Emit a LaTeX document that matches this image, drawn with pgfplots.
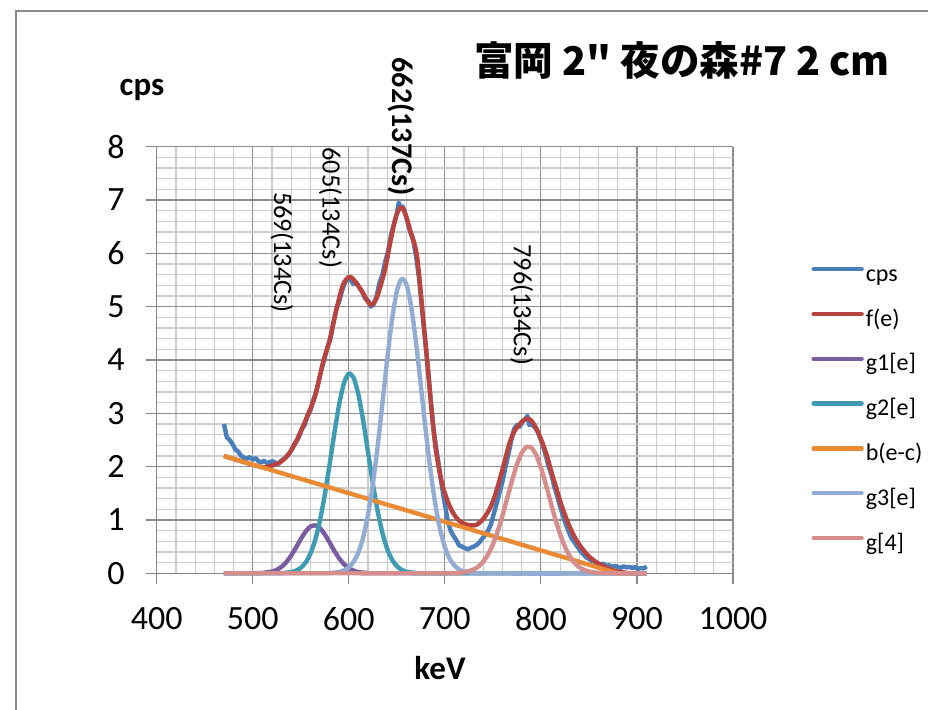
\documentclass[border=0pt]{standalone}
\usepackage{fontspec}
\setmainfont{Carlito}
\newfontfamily\cjk{Noto Sans CJK JP}
\usepackage{pgfplots}
\pgfplotsset{compat=1.18}
\definecolor{cCps}{HTML}{4A7EBB}
\definecolor{cF}{HTML}{B8433F}
\definecolor{cG1}{HTML}{7B5CA0}
\definecolor{cG2}{HTML}{3F9BB1}
\definecolor{cB}{HTML}{E98A34}
\definecolor{cG3}{HTML}{93ACD3}
\definecolor{cG4}{HTML}{D68E8C}
\begin{document}
\begin{tikzpicture}
\path[use as bounding box] (0,0) rectangle (464pt,355pt);
\draw[color=black!45, line width=0.75pt] (8pt,0pt) -- (8pt,349.5pt) -- (464pt,349.5pt);
\begin{axis}[
  at={(78.35pt,68.35pt)}, anchor=south west,
  width=288.15pt, height=213.3pt, scale only axis,
  xmin=400, xmax=1000, ymin=0, ymax=8,
  xtick={400,500,...,1000}, ytick={0,1,...,8},
  minor x tick num=4, minor y tick num=4,
  grid=both,
  major grid style={color=black!45, line width=0.6pt},
  minor grid style={color=black!20, line width=0.6pt},
  axis x line*=bottom, axis y line*=left,
  axis line style={color=black!47, line width=0.6pt},
  tick align=outside, major tick length=5.5pt, minor tick length=0pt,
  tick style={color=black!47, line width=0.6pt},
  ticklabel style={font=\fontsize{17}{19}\selectfont, text=black},
  xticklabel style={yshift=-8pt},
  yticklabel style={xshift=-7pt},
  /pgf/number format/assume math mode=true,
  /pgf/number format/1000 sep={},
  clip=false,
  legend style={at={(1.125,0.737)}, anchor=north west, draw=none, fill=none,
    font=\fontsize{12}{14}\selectfont, row sep=10.4pt, column sep=1pt,
    nodes={inner sep=0pt, text height=9pt, text depth=3pt}},
  legend cell align=left,
  legend image code/.code={\draw[#1, line width=2.2pt, line cap=round] (0pt,3pt) -- (24pt,3pt);},
  every axis plot/.append style={line width=2.2pt, line join=round},
]
\addplot[cCps] coordinates {
(470,2.80) (471,2.72) (473,2.55) (476,2.50) (479,2.42) (482,2.32) (485,2.28) (488,2.20) (491,2.17) (494,2.15) (497,2.18) (500,2.13) (503,2.16) (506,2.10) (509,2.08) (512,2.11) (515,2.06) (518,2.09) (521,2.10) (524,2.07) (527,2.05) (530,2.12) (533,2.15) (536,2.20) (539,2.28) (542,2.38) (545,2.46) (548,2.55) (551,2.70) (554,2.78) (557,2.95) (560,3.05) (563,3.25) (566,3.40) (569,3.62) (572,3.85) (575,4.05) (578,4.25) (581,4.40) (584,4.70) (587,4.95) (590,5.10) (593,5.30) (596,5.45) (599,5.55) (602,5.50) (605,5.42) (608,5.45) (611,5.35) (614,5.28) (617,5.15) (620,5.12) (623,5.00) (626,5.05) (629,5.20) (632,5.45) (635,5.60) (638,5.85) (641,6.05) (644,6.35) (647,6.55) (650,6.75) (652,6.95) (654,6.85) (656,6.88) (658,6.80) (661,6.60) (664,6.40) (667,6.25) (670,5.95) (673,5.55) (676,5.00) (679,4.45) (682,3.90) (685,3.30) (688,2.75) (691,2.35) (694,2.00) (697,1.62) (700,1.30) (703,0.98) (706,0.80) (709,0.70) (712,0.62) (715,0.52) (718,0.50) (721,0.47) (724,0.45) (727,0.48) (730,0.50) (733,0.53) (736,0.58) (739,0.65) (742,0.72) (745,0.80) (748,0.92) (751,1.12) (754,1.31) (757,1.52) (760,1.72) (763,1.98) (766,2.22) (769,2.48) (772,2.70) (775,2.78) (778,2.75) (781,2.85) (784,2.90) (786,2.95) (788,2.78) (790,2.80) (793,2.75) (796,2.68) (799,2.55) (802,2.40) (805,2.22) (808,2.00) (811,1.85) (814,1.62) (817,1.45) (820,1.25) (823,1.08) (826,0.92) (829,0.78) (832,0.65) (835,0.58) (838,0.50) (841,0.42) (844,0.36) (847,0.30) (850,0.27) (853,0.23) (856,0.22) (859,0.18) (862,0.17) (865,0.18) (868,0.14) (871,0.15) (874,0.12) (877,0.14) (880,0.12) (883,0.10) (886,0.13) (889,0.11) (892,0.12) (895,0.10) (898,0.12) (901,0.08) (904,0.10) (907,0.09) (910,0.13)
};
\addlegendentry{cps}
\addplot[cF, smooth, tension=0.5] coordinates {
(470,2.20) (490,2.09) (510,1.99) (520,2.02) (530,2.10) (540,2.30) (550,2.66) (558,3.00) (565,3.33) (573,3.94) (580,4.37) (587,4.94) (594,5.41) (601,5.56) (608,5.44) (615,5.25) (620,5.09) (624,5.03) (629,5.16) (634,5.45) (638,5.72) (644,6.28) (649,6.68) (653,6.84) (656,6.85) (660,6.68) (664,6.42) (668,6.20) (671,5.95) (674,5.45) (677,4.85) (680,4.30) (683,3.72) (686,3.10) (690,2.40) (694,1.95) (698,1.62) (703,1.35) (708,1.15) (714,1.00) (720,0.93) (727,0.90) (733,0.91) (740,1.02) (747,1.22) (752,1.45) (757,1.75) (762,2.08) (767,2.42) (772,2.65) (778,2.80) (783,2.88) (787,2.90) (791,2.84) (795,2.72) (800,2.52) (806,2.22) (811,1.90) (816,1.60) (821,1.30) (826,1.05) (831,0.83) (837,0.62) (844,0.44) (851,0.30) (860,0.18) (868,0.11) (875,0.06) (880,0.03) (895,0.0) (910,0.0)
};
\addlegendentry{f(e)}
\addplot[cG1, smooth, tension=0.4] coordinates {
(470,0) (500,0.001) (510,0.007) (520,0.032) (525,0.065) (530,0.122) (535,0.210) (540,0.332) (545,0.482) (550,0.641) (555,0.782) (560,0.876) (565,0.898) (570,0.846) (575,0.730) (580,0.578) (585,0.419) (590,0.279) (595,0.171) (600,0.095) (605,0.049) (610,0.023) (620,0.004) (630,0) (910,0)
};
\addlegendentry{g1[e]}
\addplot[cG2, smooth, tension=0.4] coordinates {
(470,0) (520,0) (530,0.003) (540,0.022) (545,0.049) (550,0.102) (555,0.200) (560,0.366) (565,0.623) (570,0.991) (575,1.470) (580,2.036) (585,2.630) (590,3.171) (595,3.567) (600,3.745) (605,3.668) (610,3.353) (615,2.859) (620,2.274) (625,1.688) (630,1.170) (635,0.756) (640,0.456) (645,0.257) (650,0.135) (655,0.066) (660,0.030) (670,0.005) (680,0) (910,0)
};
\addlegendentry{g2[e]}
\addplot[cB] coordinates {(470,2.20) (880,0) (910,0)};
\addlegendentry{b(e-c)}
\addplot[cG3, smooth, tension=0.4] coordinates {
(470,0) (570,0) (580,0.004) (590,0.024) (595,0.053) (600,0.110) (605,0.214) (610,0.393) (615,0.676) (620,1.094) (625,1.664) (630,2.376) (635,3.187) (640,4.016) (645,4.755) (650,5.287) (655,5.523) (660,5.420) (665,4.997) (670,4.329) (675,3.522) (680,2.691) (685,1.933) (690,1.303) (695,0.826) (700,0.492) (705,0.275) (710,0.145) (715,0.071) (720,0.033) (730,0.006) (740,0) (910,0)
};
\addlegendentry{g3[e]}
\addplot[cG4, smooth, tension=0.4] coordinates {
(470,0) (700,0) (710,0.004) (720,0.019) (730,0.071) (735,0.128) (740,0.218) (745,0.353) (750,0.541) (755,0.786) (760,1.082) (765,1.410) (770,1.741) (775,2.037) (780,2.257) (785,2.370) (790,2.357) (795,2.221) (800,1.982) (805,1.676) (810,1.343) (815,1.019) (820,0.733) (825,0.499) (830,0.322) (835,0.197) (840,0.114) (845,0.063) (850,0.033) (860,0.007) (870,0) (910,0)
};
\addlegendentry{g[4]}
\node[rotate=-90, anchor=west, font=\fontsize{13.2}{15}\selectfont] at (axis cs:530.4,7.28) {569(134Cs)};
\node[rotate=-90, anchor=west, font=\fontsize{13.2}{15}\selectfont] at (axis cs:581,8.12) {605(134Cs)};
\node[rotate=-90, anchor=west, font=\bfseries\fontsize{15}{17}\selectfont] at (axis cs:654.5,9.8) {662(137Cs)};
\node[rotate=-90, anchor=west, font=\fontsize{13.2}{15}\selectfont] at (axis cs:780,6.3) {796(134Cs)};
\end{axis}
\node[font=\cjk\bfseries\fontsize{19.8}{22}\selectfont] at (341pt,325pt) {富岡 2" 夜の森\#7 2 cm};
\node[font=\bfseries\fontsize{16.5}{18}\selectfont] at (71pt,310pt) {cps};
\node[font=\bfseries\fontsize{16.5}{18}\selectfont] at (220pt,21pt) {keV};
\end{tikzpicture}
\end{document}
